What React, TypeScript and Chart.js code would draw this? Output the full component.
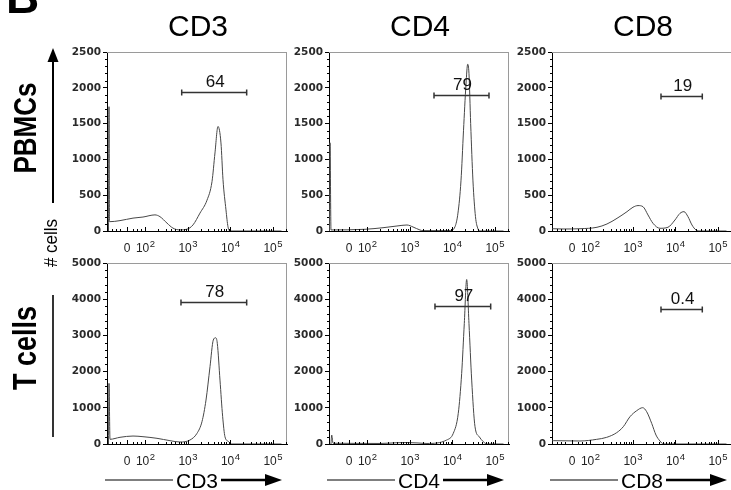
import React, { useEffect, useRef } from 'react';
import { Chart, registerables } from 'chart.js';

Chart.register(...registerables);

// ---------------- data ----------------
// x values are in log10 display units of a biexponential flow axis
const X_MIN = 1.094;
const X_MAX = 5.33;
const xTickValues = [1.565, 2, 3, 4, 5];
const xTickBases = ['0', '10', '10', '10', '10'];
const xTickExps = ['', '2', '3', '4', '5'];
const xMinorTicks = [1.2, 1.3, 1.4, 1.7, 1.8, 1.9,
  2.301, 2.477, 2.602, 2.699, 2.778, 2.845, 2.903, 2.954,
  3.301, 3.477, 3.602, 3.699, 3.778, 3.845, 3.903, 3.954,
  4.301, 4.477, 4.602, 4.699, 4.778, 4.845, 4.903, 4.954, 5.301];

const columnTitles = ['CD3', 'CD4', 'CD8'];
const rowTitles = ['PBMCs', 'T cells'];
const rowYMax = [2500, 5000];
const rowYStep = [500, 1000];

const pbmcCD3X = [1.13, 1.141, 1.152, 1.40, 1.706, 1.941, 2.223, 2.341, 2.506, 2.647, 2.812, 2.976, 3.118, 3.282, 3.447, 3.565, 3.635, 3.706, 3.776, 3.824, 3.894, 3.941, 3.988, 5.2];
const pbmcCD3Y = [0, 1736, 130, 145, 180, 195, 225, 200, 110, 40, 15, 25, 85, 250, 430, 690, 1090, 1460, 1230, 715, 295, 60, 0, 0];

const pbmcCD4X = [1.105, 1.118, 1.141, 1.941, 2.365, 2.694, 2.929, 3.071, 3.235, 3.306, 3.941, 4.059, 4.129, 4.2, 4.259, 4.318, 4.358, 4.388, 4.428, 4.482, 4.541, 4.6, 4.647, 5.2];
const pbmcCD4Y = [0, 1232, 15, 24, 46, 70, 84, 56, 14, 5, 5, 60, 250, 700, 1400, 2050, 2330, 2200, 1500, 700, 200, 30, 0, 0];

const pbmcCD8X = [1.10, 1.353, 1.753, 2.153, 2.388, 2.624, 2.859, 3.0, 3.118, 3.235, 3.353, 3.47, 3.635, 3.823, 3.988, 4.106, 4.2, 4.294, 4.388, 4.482, 4.576, 5.2];
const pbmcCD8Y = [32, 28, 32, 52, 98, 177, 270, 332, 355, 340, 224, 108, 38, 52, 154, 247, 270, 200, 84, 14, 0, 0];

const tcellCD3X = [1.13, 1.141, 1.165, 1.40, 1.706, 1.941, 2.27, 2.576, 2.812, 3.047, 3.212, 3.329, 3.424, 3.518, 3.595, 3.652, 3.69, 3.753, 3.816, 3.87, 3.948, 4.028, 5.2];
const tcellCD3Y = [0, 1675, 130, 185, 220, 202, 157, 92, 55, 110, 294, 616, 1214, 2135, 2870, 2935, 2780, 1766, 754, 202, 74, 0, 0];

const tcellCD4X = [1.14, 1.158, 1.19, 2.3, 2.694, 2.929, 3.165, 3.4, 3.863, 4.019, 4.136, 4.216, 4.278, 4.334, 4.388, 4.452, 4.53, 4.63, 4.725, 4.819, 5.2];
const tcellCD4Y = [0, 248, 20, 15, 35, 40, 30, 15, 110, 295, 847, 1950, 3330, 4545, 3330, 1766, 478, 200, 64, 0, 0];

const tcellCD8X = [1.10, 1.125, 1.753, 2.146, 2.381, 2.616, 2.772, 2.929, 3.087, 3.228, 3.322, 3.44, 3.541, 3.635, 3.713, 5.2];
const tcellCD8Y = [92, 92, 83, 129, 184, 313, 478, 754, 920, 1003, 892, 570, 248, 83, 0, 0];

const gateStart = [2.852, 3.565, 3.659, 2.835, 3.588, 3.659];
const gateEnd = [4.381, 4.859, 4.631, 4.381, 4.899, 4.631];
const gateLevel = [1936, 1904, 1880, 3920, 3809, 3735];
const gateLabels = ['64', '79', '19', '78', '97', '0.4'];

const panelSeries = [
  [pbmcCD3X, pbmcCD3Y], [pbmcCD4X, pbmcCD4Y], [pbmcCD8X, pbmcCD8Y],
  [tcellCD3X, tcellCD3Y], [tcellCD4X, tcellCD4Y], [tcellCD8X, tcellCD8Y],
];

// ---------------- layout ----------------
const colAxisX = [107, 329, 552];
const rowTop = [52, 263];
const rowPlotH = [179, 181];
const PLOT_W = 180;
const YW = 58;
const PAD_TOP = 10;
const PAD_RIGHT = 4;
const XH = 30;
const X_LABEL_DY = 21;

const BASE_FONT = '12px "Liberation Sans"';
const EXP_FONT = '9.5px "Liberation Sans"';

function makePlugin(idx: number) {
  const row = Math.floor(idx / 3);
  return {
    id: 'flowDecor' + idx,
    afterDraw(chart: any) {
      const { ctx, chartArea: a, scales } = chart;
      const xs = scales.x;
      const ys = scales.y;
      ctx.save();
      // frame: top + right (gray)
      ctx.strokeStyle = '#9a9a9a';
      ctx.lineWidth = 1;
      ctx.beginPath();
      ctx.moveTo(a.left, Math.round(a.top) + 0.5);
      ctx.lineTo(a.right, Math.round(a.top) + 0.5);
      ctx.moveTo(Math.round(a.right) - 0.5, a.top);
      ctx.lineTo(Math.round(a.right) - 0.5, a.bottom);
      ctx.stroke();

      // minor y ticks
      ctx.strokeStyle = '#000';
      const step = rowYStep[row] / 5;
      ctx.beginPath();
      for (let v = 0; v <= rowYMax[row]; v += step) {
        if (v % rowYStep[row] === 0) continue;
        const py = Math.round(ys.getPixelForValue(v)) + 0.5;
        ctx.moveTo(a.left - 2, py);
        ctx.lineTo(a.left, py);
      }
      // x ticks (inside, upward)
      const by = Math.round(a.bottom);
      xMinorTicks.forEach((v) => {
        const px = Math.round(xs.getPixelForValue(v)) + 0.5;
        ctx.moveTo(px, by);
        ctx.lineTo(px, by - 2);
      });
      xTickValues.forEach((v) => {
        const px = Math.round(xs.getPixelForValue(v)) + 0.5;
        ctx.moveTo(px, by + 1);
        ctx.lineTo(px, by - 4);
      });
      ctx.stroke();

      // x tick labels with superscripts
      ctx.fillStyle = '#222';
      ctx.textAlign = 'left';
      ctx.textBaseline = 'alphabetic';
      xTickValues.forEach((v, i) => {
        const px = xs.getPixelForValue(v);
        const base = xTickBases[i];
        const exp = xTickExps[i];
        ctx.font = BASE_FONT;
        const bw = ctx.measureText(base).width;
        ctx.font = EXP_FONT;
        const ew = exp ? ctx.measureText(exp).width + 0.5 : 0;
        const start = px - (bw + ew) / 2;
        const baseY = a.bottom + X_LABEL_DY;
        ctx.font = BASE_FONT;
        ctx.fillText(base, start, baseY);
        if (exp) {
          ctx.font = EXP_FONT;
          ctx.fillText(exp, start + bw + 0.5, baseY - 5.5);
        }
      });

      // gate
      const gy = Math.round(ys.getPixelForValue(gateLevel[idx])) + 0.5;
      const gx1 = xs.getPixelForValue(gateStart[idx]);
      const gx2 = xs.getPixelForValue(gateEnd[idx]);
      ctx.strokeStyle = '#333';
      ctx.lineWidth = 1.5;
      ctx.beginPath();
      ctx.moveTo(gx1, gy);
      ctx.lineTo(gx2, gy);
      ctx.moveTo(gx1, gy - 3);
      ctx.lineTo(gx1, gy + 3);
      ctx.moveTo(gx2, gy - 3);
      ctx.lineTo(gx2, gy + 3);
      ctx.stroke();
      ctx.fillStyle = '#111';
      ctx.font = '17px "Liberation Sans"';
      ctx.textAlign = 'center';
      ctx.fillText(gateLabels[idx], (gx1 + gx2) / 2 + 1, gy - 6);
      ctx.restore();
    },
  };
}

function Panel({ idx }: { idx: number }) {
  const ref = useRef<HTMLCanvasElement>(null);
  const row = Math.floor(idx / 3);
  const col = idx % 3;
  const plotH = rowPlotH[row];
  const w = YW + PLOT_W + PAD_RIGHT;
  const h = PAD_TOP + plotH + XH;
  const left = colAxisX[col] - YW;
  const top = rowTop[row] - PAD_TOP;

  useEffect(() => {
    const [xs, ys] = panelSeries[idx];
    const chart = new Chart(ref.current as HTMLCanvasElement, {
      type: 'line',
      data: {
        datasets: [
          {
            data: xs.map((x, i) => ({ x, y: ys[i] })),
            borderColor: '#474747',
            borderWidth: 1,
            pointRadius: 0,
            fill: false,
            cubicInterpolationMode: 'monotone',
          },
        ],
      },
      options: {
        animation: false,
        responsive: false,
        maintainAspectRatio: false,
        layout: { padding: { top: PAD_TOP, right: PAD_RIGHT, left: 0, bottom: 0 } },
        plugins: { legend: { display: false }, tooltip: { enabled: false } },
        scales: {
          x: {
            type: 'linear',
            min: X_MIN,
            max: X_MAX,
            ticks: { display: false },
            grid: { display: false },
            border: { display: true, color: '#000', width: 1 },
            afterFit: (s: any) => { s.height = XH; },
          },
          y: {
            min: 0,
            max: rowYMax[row],
            ticks: {
              stepSize: rowYStep[row],
              color: '#2a2a2a',
              padding: 2,
              font: { family: 'DejaVu Sans', size: 10.5, weight: 'bold' },
              callback: (v: any) => String(v),
            },
            grid: { display: true, drawOnChartArea: false, drawTicks: true, tickLength: 4, color: '#000' },
            border: { display: true, color: '#000', width: 1 },
            afterFit: (s: any) => { s.width = YW; },
          },
        },
      } as any,
      plugins: [makePlugin(idx)],
    } as any);
    return () => chart.destroy();
  }, [idx]);

  return (
    <canvas
      ref={ref}
      width={w}
      height={h}
      style={{ position: 'absolute', left, top, width: w, height: h }}
    />
  );
}

function BottomArrow({ col, label }: { col: number; label: string }) {
  const ax = colAxisX[col];
  const y = 480;
  const cx = ax + 90;
  const half = 24;
  return (
    <g>
      <line x1={ax - 2} y1={y} x2={cx - half} y2={y} stroke="#000" strokeWidth={1.2} />
      <text x={cx} y={488} textAnchor="middle" fontFamily="Liberation Sans" fontSize={21} fill="#000">{label}</text>
      <line x1={cx + half} y1={y} x2={ax + 162} y2={y} stroke="#000" strokeWidth={2.4} />
      <polygon points={`${ax + 175},${y} ${ax + 158},${y - 6} ${ax + 158},${y + 6}`} fill="#000" />
    </g>
  );
}

export default function App() {
  return (
    <div style={{ position: 'absolute', left: 0, top: 0, width: 731, height: 490, overflow: 'hidden', background: '#fff' }}>
      {[0, 1, 2, 3, 4, 5].map((i) => (
        <Panel key={i} idx={i} />
      ))}
      <svg width={731} height={490} style={{ position: 'absolute', left: 0, top: 0, pointerEvents: 'none' }}>
        <text x={6} y={13} fontFamily="Liberation Sans" fontWeight="bold" fontSize={46} fill="#000">B</text>
        {columnTitles.map((t, i) => (
          <text key={t} x={colAxisX[i] + 91} y={36} textAnchor="middle" fontFamily="Liberation Sans" fontSize={30} fill="#000">{t}</text>
        ))}
        <text transform="translate(35.5,128) rotate(-90) scale(1,1.22)" textAnchor="middle" fontFamily="Liberation Sans" fontWeight="bold" fontSize={26} fill="#000">{rowTitles[0]}</text>
        <text transform="translate(35.5,348) rotate(-90) scale(1,1.22)" textAnchor="middle" fontFamily="Liberation Sans" fontWeight="bold" fontSize={27} fill="#000">{rowTitles[1]}</text>
        <text transform="translate(57,243) rotate(-90) scale(1,1.1)" textAnchor="middle" fontFamily="Liberation Sans" fontSize={17} fill="#000"># cells</text>
        <line x1={53} y1={203} x2={53} y2={58} stroke="#000" strokeWidth={2} />
        <polygon points="53,48 47.5,62 58.5,62" fill="#000" />
        <line x1={53} y1={295} x2={53} y2={437} stroke="#000" strokeWidth={1.6} />
        {columnTitles.map((t, i) => (
          <BottomArrow key={t} col={i} label={t} />
        ))}
      </svg>
    </div>
  );
}
